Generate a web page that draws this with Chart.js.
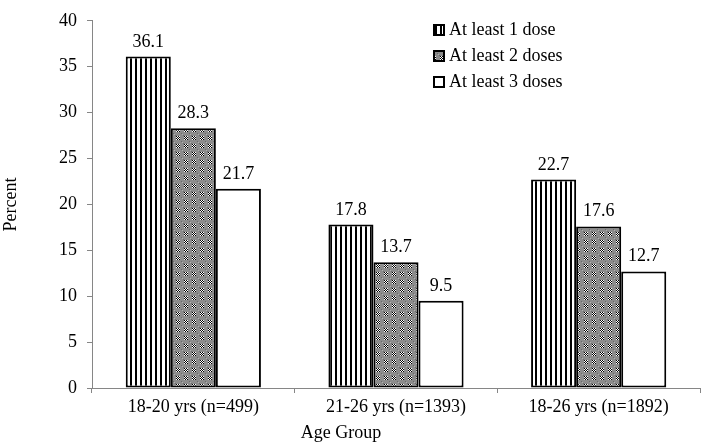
<!DOCTYPE html>
<html>
<head>
<meta charset="utf-8">
<script src="https://cdn.jsdelivr.net/npm/chart.js@4.4.1/dist/chart.umd.min.js"></script>
<style>
  html, body { margin: 0; padding: 0; background: #fff; }
</style>
</head>
<body>
<canvas id="c" width="704" height="448"></canvas>
<script>
// data
const categories = ["18-20 yrs (n=499)", "21-26 yrs (n=1393)", "18-26 yrs (n=1892)"];
const seriesNames = ["At least 1 dose", "At least 2 doses", "At least 3 doses"];
const dose1 = [36.1, 17.8, 22.7];
const dose2 = [28.3, 13.7, 17.6];
const dose3 = [21.7, 9.5, 12.7];
const yMin = 0, yMax = 40, yStep = 5;
const xTitle = "Age Group";
const yTitle = "Percent";

const FONT = "'Liberation Serif', 'Times New Roman', serif";
const FSIZE = 18;
const AXIS_GREY = "#868686";

// vertical stripes (1 dose)
function stripePattern() {
  const c = document.createElement("canvas");
  c.width = 5; c.height = 4;
  const g = c.getContext("2d");
  g.fillStyle = "#fff"; g.fillRect(0, 0, 5, 4);
  g.fillStyle = "#000"; g.fillRect(0, 0, 2, 4);
  return g.createPattern(c, "repeat");
}

// grey checker (2 doses)
function checkerPattern() {
  const c = document.createElement("canvas");
  c.width = 8; c.height = 8;
  const g = c.getContext("2d");
  g.fillStyle = "#8c8c8c"; g.fillRect(0, 0, 8, 8);
  for (let y = 0; y < 4; y++) {
    for (let x = 0; x < 4; x++) {
      g.fillStyle = (x + y) % 2 ? "#fff" : "#000";
      g.fillRect(x, y, 1, 1);
    }
  }
  g.fillStyle = "#6a6a6a"; g.fillRect(5, 5, 1, 1); g.fillRect(7, 7, 1, 1);
  g.fillStyle = "#b0b0b0"; g.fillRect(6, 6, 1, 1);
  return g.createPattern(c, "repeat");
}

const fills = [stripePattern(), checkerPattern(), "#ffffff"];

// value labels, legend and x title drawn on top
const overlay = {
  id: "overlay",
  afterDatasetsDraw(chart) {
    const ctx = chart.ctx;
    ctx.save();
    ctx.font = FSIZE + "px " + FONT;
    ctx.fillStyle = "#000";
    ctx.textAlign = "center";
    ctx.textBaseline = "alphabetic";
    chart.data.datasets.forEach(function (ds, i) {
      chart.getDatasetMeta(i).data.forEach(function (bar, j) {
        ctx.fillText(ds.data[j].toFixed(1), bar.x, bar.y - 10);
      });
    });

    // legend, top right inside plot
    const lx = 433, rows = [30, 56, 82];
    ctx.textAlign = "left";
    ctx.textBaseline = "middle";
    chart.data.datasets.forEach(function (ds, i) {
      const y = rows[i];
      ctx.fillStyle = ds.backgroundColor;
      ctx.fillRect(lx, y - 6, 12, 12);
      ctx.lineWidth = 2;
      ctx.strokeStyle = "#000";
      ctx.strokeRect(lx + 1, y - 5, 10, 10);
      ctx.fillStyle = "#000";
      ctx.fillText(ds.label, lx + 16, y);
    });

    ctx.textAlign = "center";
    ctx.fillText(xTitle, 341, 433);
    ctx.restore();
  }
};

new Chart(document.getElementById("c"), {
  type: "bar",
  data: {
    labels: categories,
    datasets: [dose1, dose2, dose3].map(function (vals, i) {
      return {
        label: seriesNames[i],
        data: vals,
        backgroundColor: fills[i],
        borderColor: "#000",
        borderWidth: 2,
        borderSkipped: false,
        barPercentage: 1,
        categoryPercentage: 0.667
      };
    })
  },
  options: {
    responsive: false,
    animation: false,
    devicePixelRatio: 1,
    layout: { padding: { top: 11, right: 4, left: 0, bottom: 0 } },
    plugins: { legend: { display: false }, tooltip: { enabled: false } },
    scales: {
      x: {
        grid: { offset: true, drawOnChartArea: false, drawTicks: true, tickLength: 5, color: AXIS_GREY },
        border: { display: true, color: AXIS_GREY, width: 1 },
        ticks: { color: "#000", padding: 3, font: { family: FONT, size: FSIZE }, maxRotation: 0 },
        afterFit: function (s) { s.height = 60; }
      },
      y: {
        min: yMin, max: yMax,
        grid: { drawOnChartArea: false, drawTicks: true, tickLength: 5, color: AXIS_GREY },
        border: { display: true, color: AXIS_GREY, width: 1 },
        ticks: { stepSize: yStep, color: "#000", padding: 10, font: { family: FONT, size: FSIZE } },
        title: { display: true, text: yTitle, color: "#000", padding: { top: 0, bottom: 0 }, font: { family: FONT, size: FSIZE } },
        afterFit: function (s) { s.width = 92; }
      }
    }
  },
  plugins: [overlay]
});
</script>
</body>
</html>
